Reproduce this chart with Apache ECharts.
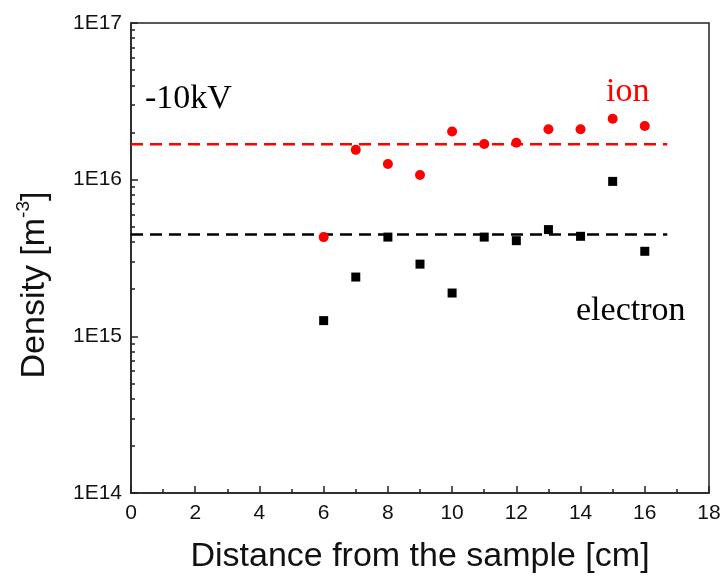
<!DOCTYPE html>
<html>
<head>
<meta charset="utf-8">
<script src="https://cdn.jsdelivr.net/npm/echarts@6/dist/echarts.min.js"></script>
<style>html,body{margin:0;padding:0;background:#fff;}#c{width:726px;height:578px;}</style>
</head>
<body>
<div id="c"></div>
<script>
// ---- data ----
var distance = [6, 7, 8, 9, 10, 11, 12, 13, 14, 15, 16];
var ionDensity = [4.3e15, 1.55e16, 1.26e16, 1.07e16, 2.03e16, 1.69e16, 1.72e16, 2.10e16, 2.10e16, 2.45e16, 2.20e16];
var electronDensity = [1.26e15, 2.39e15, 4.3e15, 2.89e15, 1.89e15, 4.3e15, 4.08e15, 4.8e15, 4.35e15, 9.75e15, 3.49e15];
var ionMean = 1.68e16;
var electronMean = 4.46e15;
var meanLineRange = [0, 16.7];
var yMajorTicks = [1e14, 1e15, 1e16, 1e17];
var yMinorMultipliers = [2, 3, 4, 5, 6, 7, 8, 9];

var yMinorTicks = [];
yMajorTicks.slice(0, -1).forEach(function (d) {
  yMinorMultipliers.forEach(function (m) { yMinorTicks.push(d * m); });
});

var SANS = '"Liberation Sans", Arial, sans-serif';
var SERIF = '"Liberation Serif", "Times New Roman", serif';
var AX = '#222';

var chart = echarts.init(document.getElementById('c'), null, {renderer: 'canvas'});
chart.setOption({
  animation: false,
  backgroundColor: '#fff',
  grid: {left: 131, right: 17, top: 23, bottom: 85, show: true, borderColor: AX, borderWidth: 1.5, backgroundColor: 'transparent', outerBoundsMode: 'none'},
  xAxis: {
    type: 'value', min: 0, max: 18, interval: 2,
    name: 'Distance from the sample [cm]', nameLocation: 'middle', nameGap: 47, nameMoveOverlap: false,
    nameTextStyle: {fontFamily: SANS, fontSize: 34, color: '#111'},
    axisLine: {show: true, lineStyle: {color: AX, width: 1.5}},
    axisTick: {show: true, inside: true, length: 7, lineStyle: {color: AX, width: 1.5}},
    minorTick: {show: true, splitNumber: 2, length: 4, lineStyle: {color: AX, width: 1.5}},
    axisLabel: {fontFamily: SANS, fontSize: 21, color: '#111', margin: 10},
    splitLine: {show: false}
  },
  yAxis: [{
    type: 'log', min: 1e14, max: 1e17, logBase: 10,
    name: '{a|Density [m}{s|-3}{a|]}', nameLocation: 'middle', nameRotate: 90, nameGap: 76, nameMoveOverlap: false,
    nameTextStyle: {padding: [0, 54, 0, 0], rich: {
      a: {fontFamily: SANS, fontSize: 34, color: '#111'},
      s: {fontFamily: SANS, fontSize: 19, color: '#111', padding: [0, 0, 22, 0]}
    }},
    axisLine: {show: true, lineStyle: {color: AX, width: 1.5}},
    axisTick: {show: true, inside: true, length: 7, lineStyle: {color: AX, width: 1.5}},
    axisLabel: {fontFamily: SANS, fontSize: 21, color: '#111', margin: 9,
      formatter: function (v) { return '1E' + Math.round(Math.log10(v)); }},
    splitLine: {show: false}
  }, {
    type: 'log', min: 1e14, max: 1e17, logBase: 10, position: 'left', offset: 0,
    axisLine: {show: false},
    axisTick: {show: true, inside: true, length: 4, customValues: yMinorTicks, lineStyle: {color: AX, width: 1.5}},
    axisLabel: {show: false},
    splitLine: {show: false}
  }],
  series: [{
    name: 'ion mean', type: 'line', yAxisIndex: 0, symbol: 'none',
    data: meanLineRange.map(function (x) { return [x, ionMean]; }),
    lineStyle: {color: '#ff0000', width: 2.5, type: [12, 7]}, z: 2
  }, {
    name: 'electron mean', type: 'line', yAxisIndex: 0, symbol: 'none',
    data: meanLineRange.map(function (x) { return [x, electronMean]; }),
    lineStyle: {color: '#000', width: 2.5, type: [12, 7]}, z: 2
  }, {
    name: 'ion', type: 'scatter', yAxisIndex: 0, symbol: 'circle', symbolSize: 10,
    data: distance.map(function (x, i) { return [x, ionDensity[i]]; }),
    itemStyle: {color: '#ff0000', opacity: 1}, z: 3
  }, {
    name: 'electron', type: 'scatter', yAxisIndex: 0, symbol: 'rect', symbolSize: 9,
    data: distance.map(function (x, i) { return [x, electronDensity[i]]; }),
    itemStyle: {color: '#000', opacity: 1}, z: 3
  }],
  graphic: [
    {type: 'text', x: 145, y: 99, style: {text: '-10kV', font: '34px ' + SERIF, fill: '#000', align: 'left', verticalAlign: 'middle'}},
    {type: 'text', x: 606, y: 92, style: {text: 'ion', font: '34px ' + SERIF, fill: '#ff0000', align: 'left', verticalAlign: 'middle'}},
    {type: 'text', x: 576, y: 311, style: {text: 'electron', font: '34px ' + SERIF, fill: '#000', align: 'left', verticalAlign: 'middle'}}
  ]
});
</script>
</body>
</html>
